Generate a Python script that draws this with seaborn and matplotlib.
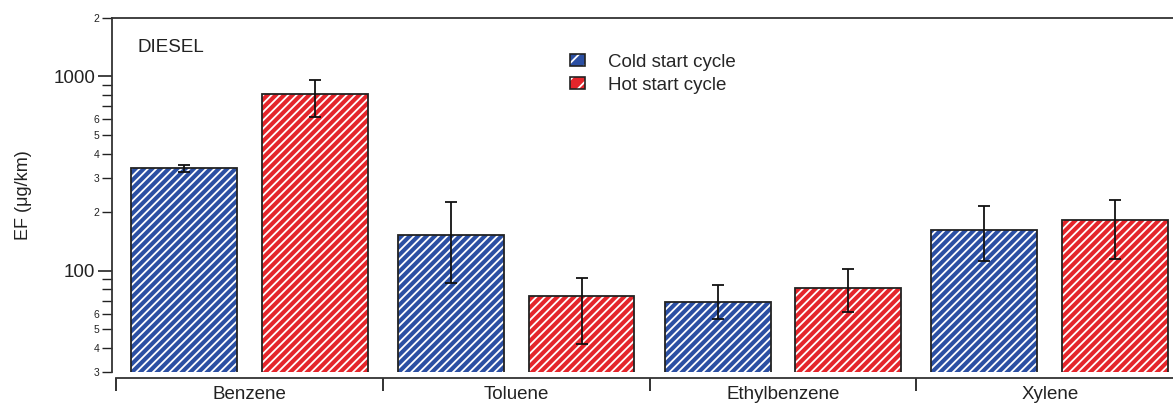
import numpy as np
import pandas as pd
import matplotlib
matplotlib.use("Agg")
import matplotlib.pyplot as plt
import seaborn as sns
from matplotlib.ticker import LogLocator, FixedLocator, FuncFormatter, NullFormatter, FixedFormatter
from matplotlib.patches import Patch, Rectangle

# ---------------- data ----------------
compounds = ["Benzene", "Toluene", "Ethylbenzene", "Xylene"]
cycles = ["Cold start cycle", "Hot start cycle"]
cold_ef = [336, 153, 69, 161]
hot_ef = [810, 74, 81, 182]
cold_err_low = [14, 67, 13, 49]
cold_err_high = [14, 72, 15, 53]
hot_err_low = [190, 32, 20, 68]
hot_err_high = [147, 17, 21, 48]
minor_label_digits = [2, 3, 4, 5, 6]
panel_label = "DIESEL"
y_label = "EF (μg/km)"

blue = "#2b4fa3"
red = "#e4252b"

df = pd.DataFrame({
    "compound": compounds * 2,
    "cycle": [cycles[0]] * 4 + [cycles[1]] * 4,
    "EF": cold_ef + hot_ef,
})

sns.set_style("ticks")
plt.rcParams["font.family"] = ["Liberation Sans", "DejaVu Sans"]
plt.rcParams["hatch.linewidth"] = 1.3

fig = plt.figure(figsize=(11.73, 4.04), dpi=100)
ax = fig.add_axes([112 / 1173, 32 / 404, 1061 / 1173, 354 / 404])

sns.barplot(data=df, x="compound", y="EF", hue="cycle", order=compounds,
            hue_order=cycles, palette=[blue, red], width=0.98, gap=0.19,
            errorbar=None, saturation=1, legend=False,
            edgecolor="white", linewidth=0, ax=ax)
ax.set_yscale("log", nonpositive="clip")

edge = "#222222"
for cont in ax.containers:
    for p in cont.patches:
        p.set_hatch("////")
        p.set_edgecolor("white")
        ax.add_patch(Rectangle(p.get_xy(), p.get_width(), p.get_height(),
                               fill=False, ec=edge, lw=1.3, zorder=p.get_zorder() + 0.1))

for cont, vals, lo, hi in [(ax.containers[0], cold_ef, cold_err_low, cold_err_high),
                           (ax.containers[1], hot_ef, hot_err_low, hot_err_high)]:
    xs = [p.get_x() + p.get_width() / 2 for p in cont.patches]
    ax.errorbar(xs, vals, yerr=[lo, hi], fmt="none", ecolor="#111111",
                elinewidth=1.3, capsize=4.5, capthick=1.3, zorder=5)

# y axis
ax.set_ylim(30, 2000)
ax.yaxis.set_major_locator(LogLocator(base=10, numticks=10))
ax.yaxis.set_minor_locator(LogLocator(base=10, subs=np.arange(2, 10), numticks=20))
ax.yaxis.set_major_formatter(FuncFormatter(lambda v, _: f"{v:g}"))


def minor_fmt(v, _):
    d = int(round(v / 10 ** np.floor(np.log10(v) + 1e-9)))
    return str(d) if d in minor_label_digits else ""


ax.yaxis.set_minor_formatter(FuncFormatter(minor_fmt))
ax.tick_params(axis="y", which="major", length=10, width=1.2, labelsize=13.5,
               pad=2, direction="out", colors="#222222")
ax.tick_params(axis="y", which="minor", length=7, width=1.0, labelsize=7.5,
               pad=2, direction="out", colors="#222222")
ax.set_ylabel(y_label, fontsize=13, color="#222222")
ax.yaxis.set_label_coords(-0.075, 0.5)

# x axis
ax.set_xlim(-0.515, 3.462)
ax.xaxis.set_major_locator(FixedLocator([-0.5, 0.5, 1.5, 2.5, 3.5]))
ax.xaxis.set_major_formatter(NullFormatter())
ax.xaxis.set_minor_locator(FixedLocator(list(range(len(compounds)))))
ax.xaxis.set_minor_formatter(FixedFormatter(compounds))
ax.tick_params(axis="x", which="major", length=9, width=1.3, direction="out", colors="#222222")
ax.tick_params(axis="x", which="minor", length=0, labelsize=13.5, pad=6, colors="#222222")
ax.set_xlabel("")

for s in ["left", "top", "bottom"]:
    ax.spines[s].set_visible(True)
    ax.spines[s].set_linewidth(1.3)
    ax.spines[s].set_color("#333333")
ax.spines["right"].set_visible(False)
ax.spines["bottom"].set_position(("outward", 4))
ax.spines["bottom"].set_bounds(-0.5, 3.462)

ax.text(0.0236, 0.918, panel_label, transform=ax.transAxes, fontsize=13.5,
        va="center", ha="left", color="#222222")

handles = [
    (Patch(facecolor=blue, edgecolor="white", hatch="//", linewidth=0),
     Patch(fill=False, edgecolor=edge, linewidth=1.2)),
    (Patch(facecolor=red, edgecolor="white", hatch="//", linewidth=0),
     Patch(fill=False, edgecolor=edge, linewidth=1.2)),
]
ax.legend(handles, cycles, loc="upper left", bbox_to_anchor=(0.432, 0.899),
          frameon=False, fontsize=13.5, handlelength=0.8, handleheight=0.6,
          handletextpad=1.2, labelspacing=0.33, borderpad=0, borderaxespad=0)

fig.savefig("out.png", dpi=100)
